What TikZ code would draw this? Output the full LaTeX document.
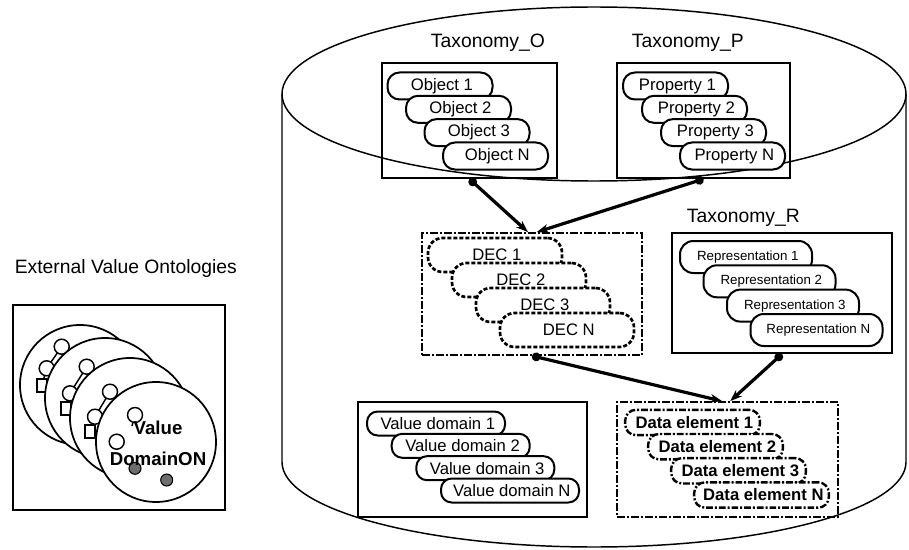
\documentclass[tikz,border=0pt]{standalone}
\usepackage{fontspec}
\setmainfont{Liberation Sans}
\usepackage{xcolor}
\definecolor{Black}{RGB}{0,0,0}
\definecolor{White}{RGB}{255,255,255}
\definecolor{Gray}{RGB}{110,110,110}
\newcommand{\labelsize}		{ \fontsize{14.5}{17}\selectfont }
\newcommand{\pillsize}		{ \fontsize{12.5}{14}\selectfont }
\newcommand{\smallsize}		{ \fontsize{10}{12}\selectfont }
\usepackage{tikz}
\usetikzlibrary{arrows.meta}

\begin{document}
\begin{tikzpicture}[x=0.75pt, y=-0.75pt,
		frame/.style={draw=Black, line width=1.5pt, inner sep=0pt},
		dashframe/.style={frame, line width=1.3pt, dash pattern=on 6pt off 1.5pt on 1.5pt off 1.5pt},
		pill/.style={draw=Black, fill=White, line width=1.5pt, rounded corners=9pt, inner sep=0pt, font=\pillsize},
		objpill/.style={pill, minimum width=78.75pt, minimum height=20.25pt},
		decpill/.style={pill, line width=2pt, dash pattern=on 3pt off 1.5pt, rounded corners=11pt, minimum width=100.5pt, minimum height=25.5pt},
		reppill/.style={pill, font=\smallsize, rounded corners=10pt, minimum width=99pt, minimum height=24pt},
		vdpill/.style={pill, rounded corners=8pt, minimum width=103.5pt, minimum height=18pt},
		depill/.style={pill, line width=1.8pt, dash pattern=on 5pt off 1.5pt on 1.5pt off 1.5pt, rounded corners=8pt, font=\pillsize\bfseries, minimum width=101pt, minimum height=19pt},
		link/.style={draw=Black, line width=2.4pt, {Circle[length=6.5pt]}-{Stealth[length=9pt,width=6.5pt]}},
		title/.style={font=\labelsize, inner sep=0pt}]
		
		\useasboundingbox (0,0) rectangle (909,549);
		
		% Cylinder
		\draw[draw=Black, line width=1.1pt] (594,94) ellipse [x radius=312, y radius=87];
		\draw[draw=Black, line width=1.1pt] (282,94) -- (282,462) arc [start angle=180, end angle=0, x radius=312, y radius=85] -- (906,94);
		
		% Boxes
		\node[frame, minimum width=131.25pt, minimum height=86.25pt] (boxO) at (469.5,120.5) {};
		\node[frame, minimum width=129.75pt, minimum height=86.25pt] (boxP) at (703.5,120.5) {};
		\node[dashframe, minimum width=165pt, minimum height=91.5pt] (boxDEC) at (532,294) {};
		\node[frame, minimum width=165pt, minimum height=90pt] (boxR) at (782,293) {};
		\node[frame, minimum width=171.75pt, minimum height=86.25pt] (boxVD) at (472.5,459.5) {};
		\node[dashframe, minimum width=165.75pt, minimum height=86.25pt] (boxDE) at (727.5,459.5) {};
		\node[frame, minimum width=159pt, minimum height=153.75pt] (boxEVO) at (119,407.5) {};
		
		% Names
		\node[title, anchor=west] (titleO) at (427,43) {Taxonomy\_O};
		\node[title, anchor=west] (titleP) at (628,43) {Taxonomy\_P};
		\node[title, anchor=west] (titleR) at (683,218) {Taxonomy\_R};
		\node[title] (titleEVO) at (124,268) {External Value Ontologies};
		
		% Objects
		\node[objpill] (obj1) at (440,86) {Object 1};
		\node[objpill] (obj2) at (458.5,109.3) {Object 2};
		\node[objpill] (obj3) at (477,132.6) {Object 3};
		\node[objpill] (objN) at (495.5,156) {Object N};
		
		% Properties
		\node[objpill] (prop1) at (675.5,86) {Property 1};
		\node[objpill] (prop2) at (694.5,109.3) {Property 2};
		\node[objpill] (prop3) at (713.5,132.6) {Property 3};
		\node[objpill] (propN) at (732.5,156) {Property N};
		
		% DECs
		\node[decpill] (dec1) at (495,255) {DEC 1};
		\node[decpill] (dec2) at (519,280) {DEC 2};
		\node[decpill] (dec3) at (543,305) {DEC 3};
		\node[decpill] (decN) at (567,330) {DEC N};
		
		% Representations
		\node[reppill] (rep1) at (746,257) {Representation 1};
		\node[reppill] (rep2) at (769.5,281.3) {Representation 2};
		\node[reppill] (rep3) at (793,305.6) {Representation 3};
		\node[reppill] (repN) at (816.5,330) {Representation N};
		
		% Value domains
		\node[vdpill] (vd1) at (436,423.5) {Value domain 1};
		\node[vdpill] (vd2) at (460.7,445.8) {Value domain 2};
		\node[vdpill] (vd3) at (485.3,468.2) {Value domain 3};
		\node[vdpill] (vdN) at (510,490.5) {Value domain N};
		
		% Data elements
		\node[depill] (de1) at (692.5,422.5) {Data element 1};
		\node[depill] (de2) at (715.5,446.7) {Data element 2};
		\node[depill] (de3) at (738.5,470.8) {Data element 3};
		\node[depill] (deN) at (761.5,495) {Data element N};
		
		% Links
		\draw[link] (boxO.south) -- ([xshift=-3pt]boxDEC.north);
		\draw[link] (boxP.south) -- ([xshift=3.5pt]boxDEC.north);
		\draw[link] (boxDEC.south) -- ([xshift=-4pt]boxDE.north);
		\draw[link] (boxR.south) -- ([xshift=2pt]boxDE.north);
		
		% Ontologies
		\draw[draw=Black, fill=White, line width=1.3pt] (80,385) circle [radius=60];
		\draw[draw=Black, line width=1.1pt] (61.7,346.7) -- (46.7,368.3) -- (42,385);
		\draw[draw=Black, fill=White, line width=1.1pt] (61.7,346.7) circle [radius=7.5];
		\draw[draw=Black, fill=White, line width=1.1pt] (46.7,368.3) circle [radius=7.5];
		\draw[draw=Black, fill=White, line width=1.1pt] (37,379) rectangle (47,392);
		
		\draw[draw=Black, fill=White, line width=1.3pt] (105,398) circle [radius=60];
		\draw[draw=Black, line width=1.1pt] (86.7,366.7) -- (70,393.3) -- (65.7,408.3);
		\draw[draw=Black, fill=White, line width=1.1pt] (86.7,366.7) circle [radius=7.5];
		\draw[draw=Black, fill=White, line width=1.1pt] (70,393.3) circle [radius=7.5];
		\draw[draw=Black, fill=White, line width=1.1pt] (61,402) rectangle (71,415);
		
		\draw[draw=Black, fill=White, line width=1.3pt] (130,418) circle [radius=60];
		\draw[draw=Black, line width=1.1pt] (110,391.7) -- (95,416.7) -- (90,431.7);
		\draw[draw=Black, fill=White, line width=1.1pt] (110,391.7) circle [radius=7.5];
		\draw[draw=Black, fill=White, line width=1.1pt] (95,416.7) circle [radius=7.5];
		\draw[draw=Black, fill=White, line width=1.1pt] (85,425) rectangle (95,438);
		
		\draw[draw=Black, fill=White, line width=1.3pt] (156,442) circle [radius=60];
		\draw[draw=Black, line width=1.1pt] (135,415) -- (132,426);
		\draw[draw=Black, fill=White, line width=1.1pt] (135,415) circle [radius=7.5];
		\draw[draw=Black, fill=White, line width=1.1pt] (116.7,441.7) circle [radius=7.5];
		\filldraw[fill=Gray, draw=Black, line width=0.8pt] (135,468.3) circle [radius=6];
		\filldraw[fill=Gray, draw=Black, line width=0.8pt] (166.7,480) circle [radius=6];
		\node[font=\fontsize{14}{16}\selectfont\bfseries, inner sep=0pt] (valname) at (158,428) {Value};
		\node[font=\fontsize{14}{16}\selectfont\bfseries, inner sep=0pt] (domname) at (158,459) {DomainON};
		
	\end{tikzpicture}
\end{document}
